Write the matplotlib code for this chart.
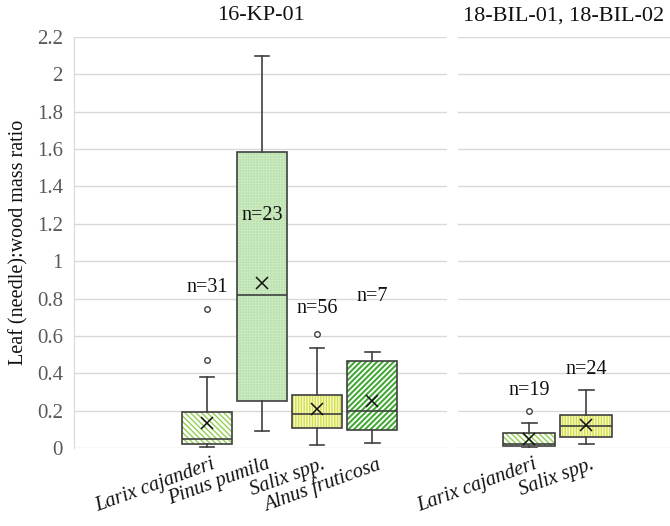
import matplotlib
matplotlib.use("Agg")
import matplotlib.pyplot as plt
from matplotlib.patches import PathPatch

# ---------------- data ----------------
left_title = "16-KP-01"
right_title = "18-BIL-01, 18-BIL-02"
y_label = "Leaf (needle):wood mass ratio"
y_ticks = [0, 0.2, 0.4, 0.6, 0.8, 1, 1.2, 1.4, 1.6, 1.8, 2, 2.2]
y_tick_labels = ["0", "0.2", "0.4", "0.6", "0.8", "1", "1.2", "1.4", "1.6", "1.8", "2", "2.2"]

left_species = ["Larix cajanderi", "Pinus pumila", "Salix spp.", "Alnus fruticosa"]
left_whislo = [0.003, 0.093, 0.018, 0.028]
left_q1 = [0.020, 0.250, 0.105, 0.096]
left_med = [0.050, 0.820, 0.182, 0.198]
left_q3 = [0.194, 1.583, 0.284, 0.467]
left_whishi = [0.380, 2.100, 0.535, 0.515]
left_mean = [0.135, 0.885, 0.207, 0.253]
left_fliers = [[0.470, 0.745], [], [0.610], []]
left_n = [31, 23, 56, 7]
left_n_y = [0.86, 1.245, 0.745, 0.81]

right_species = ["Larix cajanderi", "Salix spp."]
right_whislo = [0.002, 0.020]
right_q1 = [0.010, 0.057]
right_med = [0.020, 0.120]
right_q3 = [0.080, 0.177]
right_whishi = [0.134, 0.310]
right_mean = [0.047, 0.123]
right_fliers = [[0.198], []]
right_n = [19, 24]
right_n_y = [0.31, 0.42]

# ---------------- styles ----------------
styles = {
    "Larix cajanderi": dict(face="#ffffff", hatch="\\" * 6, hcol="#92d050", hlw=1.0),
    "Pinus pumila": dict(face="#d6f0cf", hatch="+" * 6, hcol="#bfe3b3", hlw=1.0),
    "Salix spp.": dict(face="#f7f9cf", hatch="|" * 6, hcol="#d3df45", hlw=1.0),
    "Alnus fruticosa": dict(face="#ffffff", hatch="/" * 6, hcol="#45a836", hlw=1.5),
}

plt.rcParams["font.family"] = ["Liberation Serif", "DejaVu Serif"]
plt.rcParams["hatch.linewidth"] = 1.0

W, H = 670, 526
fig = plt.figure(figsize=(W / 100, H / 100), dpi=100)

ax_l = fig.add_axes([74 / W, 1 - 448 / H, (447 - 74) / W, (448 - 37) / H])
ax_r = fig.add_axes([458 / W, 1 - 448 / H, (670 - 458) / W, (448 - 37) / H])

edge = "#404040"
grid_col = "#d9d9d9"


def draw(ax, species, whislo, q1, med, q3, whishi, mean, fliers, ns, n_y):
    stats = []
    for i, s in enumerate(species):
        stats.append(dict(label=s, whislo=whislo[i], q1=q1[i], med=med[i],
                          q3=q3[i], whishi=whishi[i], mean=mean[i],
                          fliers=fliers[i]))
    pos = list(range(1, len(species) + 1))
    bp = ax.bxp(stats, positions=pos, widths=0.91, patch_artist=True,
                showmeans=True, showfliers=True,
                whiskerprops=dict(color=edge, lw=1.2),
                capprops=dict(color=edge, lw=1.2),
                medianprops=dict(color=edge, lw=1.2, zorder=4),
                meanprops=dict(marker="x", markeredgecolor="#111111",
                               markersize=8, markeredgewidth=1.1, zorder=5),
                flierprops=dict(marker="o", markerfacecolor="white",
                                markeredgecolor=edge, markersize=4,
                                markeredgewidth=1.0),
                capwidths=0.26)
    for patch, s in zip(bp["boxes"], species):
        st = styles[s]
        patch.set_facecolor(st["face"])
        patch.set_edgecolor(st["hcol"])
        patch.set_hatch(st["hatch"])
        if hasattr(patch, "set_hatch_linewidth"):
            patch.set_hatch_linewidth(st["hlw"])
        patch.set_linewidth(0)
        patch.set_zorder(2)
        outline = PathPatch(patch.get_path(), facecolor="none",
                            edgecolor=edge, lw=1.2, zorder=3)
        ax.add_patch(outline)
    for p, n, y in zip(pos, ns, n_y):
        ax.text(p, y, f"n={n}", ha="center", va="center", fontsize=14.5,
                color="#111111", zorder=6)
    ax.set_xticks(pos)
    ax.set_xticklabels([])
    for p, s in zip(pos, species):
        ax.annotate(s, xy=(p, 0), xycoords=("data", "axes fraction"),
                    xytext=(3, -5), textcoords="offset points",
                    rotation=20, rotation_mode="anchor", ha="right", va="top",
                    fontsize=14.5, style="italic", color="#111111")
    ax.set_ylim(0, 2.2)
    ax.set_yticks(y_ticks)
    ax.yaxis.grid(True, color=grid_col, lw=1.0, zorder=0)
    ax.set_axisbelow(True)
    ax.tick_params(axis="both", length=0)
    for sp in ax.spines.values():
        sp.set_visible(False)


draw(ax_l, left_species, left_whislo, left_q1, left_med, left_q3, left_whishi,
     left_mean, left_fliers, left_n, left_n_y)
draw(ax_r, right_species, right_whislo, right_q1, right_med, right_q3,
     right_whishi, right_mean, right_fliers, right_n, right_n_y)

ax_l.set_xlim(-1.418, 5.355)
ax_r.set_xlim(-0.246, 3.47)

ax_l.spines["left"].set_visible(True)
ax_l.spines["left"].set_color(grid_col)
ax_l.set_yticklabels(y_tick_labels, fontsize=15, color="#595959")
ax_l.tick_params(axis="y", pad=8)
ax_l.set_ylabel(y_label, fontsize=14.5, color="#111111", labelpad=6)
ax_r.set_yticklabels([])

ax_l.set_title(left_title, fontsize=16, color="#111111", pad=12)
ax_r.set_title(right_title, fontsize=16, color="#111111", pad=12)

fig.savefig("out.png", dpi=100)
